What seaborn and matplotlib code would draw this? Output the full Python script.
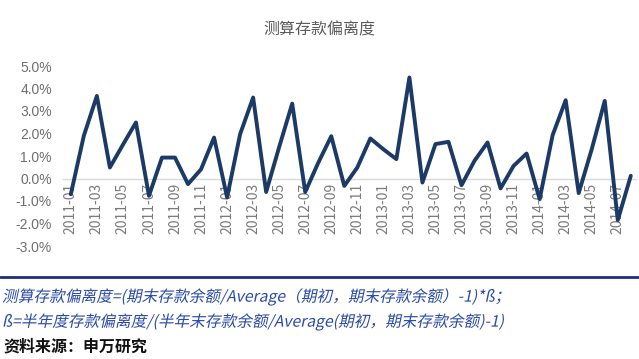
import matplotlib
matplotlib.use("Agg")
import matplotlib.pyplot as plt
import seaborn as sns
import pandas as pd
from matplotlib.textpath import TextPath
from matplotlib.patches import PathPatch
from matplotlib.font_manager import FontProperties
from matplotlib.transforms import Affine2D, IdentityTransform

# monthly deviation, 2011-01 .. 2014-08 (percent)
months = [f"{y}-{m:02d}" for y in range(2011, 2015) for m in range(1, 13)][:44]
deviation = [-0.7, 1.9, 3.67, 0.49, 1.5, 2.49, -0.77, 0.93, 0.93, -0.25, 0.41, 1.82,
             -0.84, 1.97, 3.6, -0.6, 1.4, 3.33, -0.6, 0.7, 1.88, -0.33, 0.49, 1.78,
             1.3, 0.86, 4.49, -0.18, 1.53, 1.63, -0.3, 0.79, 1.6, -0.44, 0.56, 1.11,
             -0.92, 1.93, 3.48, -0.65, 1.3, 3.45, -1.85, 0.12]
y_ticks = [-3, -2, -1, 0, 1, 2, 3, 4, 5]

title = "测算存款偏离度"
note1 = "测算存款偏离度=(期末存款余额/Average（期初，期末存款余额）-1)*ß；"
note2 = "ß=半年度存款偏离度/(半年末存款余额/Average(期初，期末存款余额)-1)"
source = "资料来源：申万研究"

df = pd.DataFrame({"idx": range(len(months)), "month": months, "dev": deviation})

sns.set_style("white")
plt.rcParams["font.family"] = ["Noto Sans CJK SC", "DejaVu Sans"]

W, H = 639, 359
fig = plt.figure(figsize=(W / 100, H / 100), dpi=100)
ax = fig.add_axes([63 / W, 1 - 246 / H, 573 / W, 180 / H])

sns.lineplot(data=df, x="idx", y="dev", ax=ax, color="#1c3a66", linewidth=2.8,
             zorder=5, clip_on=False)

ax.set_xlim(-0.6, 43.4)
ax.set_ylim(-3, 5)
ax.tick_params(axis="both", length=0)
ax.tick_params(axis="x", pad=3, labelrotation=90, labelcolor="#7a7a7a")
ax.tick_params(axis="y", pad=8, labelcolor="#6e6e6e")
ax.set_yticks(y_ticks)
ax.set_yticklabels([f"{v:.1f}%" for v in y_ticks], fontsize=10,
                   family=["Liberation Sans"])
ax.set_xticks(df["idx"][::2])
ax.set_xticklabels(df["month"][::2], rotation=90, fontsize=11,
                   family=["Liberation Sans"])

for s in ["left", "right", "top"]:
    ax.spines[s].set_visible(False)
ax.spines["bottom"].set_position(("data", 0))
ax.spines["bottom"].set_color("#d9d9d9")
ax.spines["bottom"].set_linewidth(1)
ax.set_xlabel("")
ax.set_ylabel("")

fig.text(0.5, 1 - 30 / H, title, ha="center", va="center", fontsize=11.5, color="#5a5a5a")


def slanted_text(x_px, y_top_px, s, size, color):
    # CJK font has no italic face, so shear the glyph outlines instead
    fp = FontProperties(family="Noto Sans CJK SC")
    tp = TextPath((0, 0), s, size=size, prop=fp)
    k = fig.dpi / 72
    base = H - y_top_px - 0.36 * size * k
    tr = Affine2D().skew_deg(12, 0).scale(k).translate(x_px, base)
    fig.add_artist(PathPatch(tp, transform=tr + IdentityTransform(), facecolor=color,
                             edgecolor="none"))


# separator rule and notes
fig.add_artist(plt.Line2D([0, 1], [1 - 277 / H, 1 - 277 / H], color="#1f2f7a", linewidth=2))
slanted_text(2, 296, note1, 11.3, "#2a4aa8")
slanted_text(2, 321, note2, 11.3, "#2a4aa8")
fig.text(3 / W, 1 - 346 / H, source, ha="left", va="center", fontsize=11.5,
         color="#111111", fontweight="bold")

fig.savefig("out.png", dpi=100)
